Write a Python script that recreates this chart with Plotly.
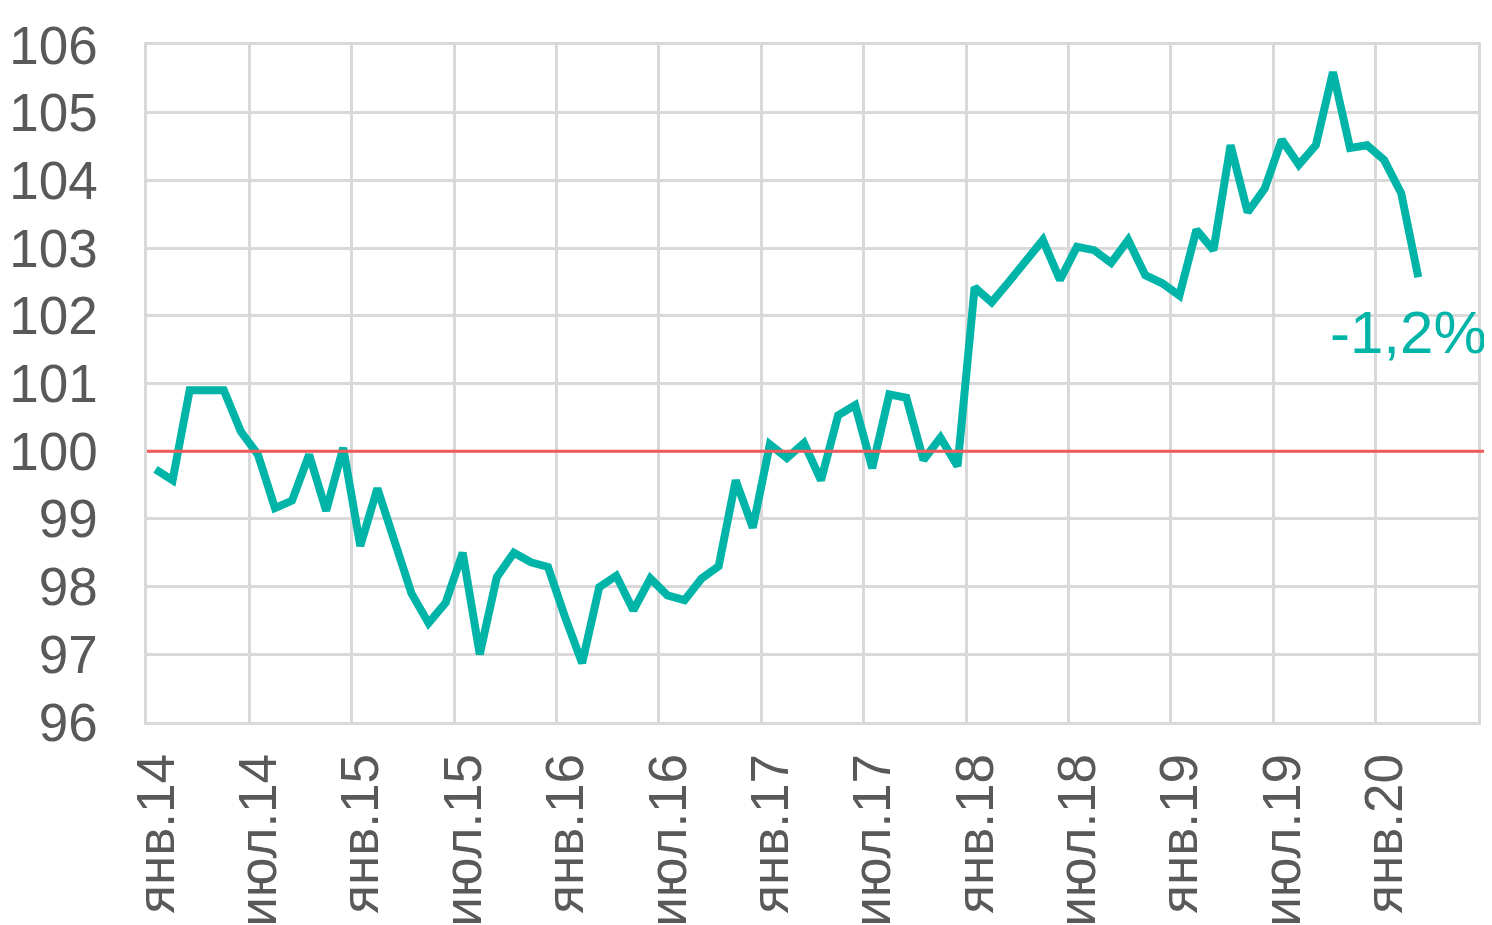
import plotly.graph_objects as go

# Monthly index values, Jan 2014 .. Mar 2020
values = [
    99.73, 99.57, 100.9, 100.9, 100.9, 100.29, 99.95, 99.16, 99.27, 99.95,
    99.12, 100.05, 98.6, 99.45, 98.7, 97.9, 97.46, 97.76, 98.5, 97.0,
    98.14, 98.5, 98.36, 98.29, 97.55, 96.87, 97.99, 98.16, 97.65, 98.12,
    97.87, 97.8, 98.12, 98.3, 99.57, 98.87, 100.1, 99.9, 100.12, 99.57,
    100.53, 100.68, 99.75, 100.84, 100.79, 99.87, 100.2, 99.78, 102.42, 102.2,
    102.5, 102.82, 103.12, 102.53, 103.02, 102.97, 102.78, 103.12, 102.6, 102.48,
    102.3, 103.27, 102.97, 104.52, 103.53, 103.88, 104.6, 104.23, 104.52, 105.6,
    104.48, 104.52, 104.3, 103.81, 102.57,
]
tick_labels = ["янв.14", "июл.14", "янв.15", "июл.15", "янв.16", "июл.16",
               "янв.17", "июл.17", "янв.18", "июл.18", "янв.19", "июл.19", "янв.20"]
y_ticks = [96, 97, 98, 99, 100, 101, 102, 103, 104, 105, 106]
baseline = 100
end_label = "-1,2%"

# month index, plotted at middle of each month
x = [i + 0.5 for i in range(len(values))]
tick_pos = [6 * k + 0.55 for k in range(len(tick_labels))]

teal = "#00B5A8"
grid = "#D9D9D9"
font_family = "Liberation Sans, Arial, sans-serif"

fig = go.Figure()
fig.add_trace(go.Scatter(x=x, y=values, mode="lines",
                         line=dict(color=teal, width=8, shape="linear"),
                         hoverinfo="skip", showlegend=False))

fig.add_shape(type="line", xref="paper", yref="y", x0=0, x1=1.005,
              y0=baseline, y1=baseline, line=dict(color="#F05A5A", width=3))

fig.add_annotation(x=73.9, y=101.76, text=end_label, showarrow=False,
                   font=dict(family=font_family, size=60, color=teal),
                   xanchor="center", yanchor="middle")

fig.update_layout(
    width=1492, height=925,
    margin=dict(l=139, r=22, t=37, b=211),
    paper_bgcolor="white", plot_bgcolor="white",
    font=dict(family=font_family, color="#595959"),
)
fig.update_xaxes(
    range=[0, 78], tickmode="array", tickvals=tick_pos, ticktext=tick_labels,
    tickangle=-90, tickfont=dict(size=53, color="#595959"),
    showgrid=False, zeroline=False, automargin=False,
    ticks="", ticklabelstandoff=8,
    minor=dict(tick0=0, dtick=6, showgrid=True, gridcolor=grid, gridwidth=2.5, ticks=""),
    showline=True, linecolor=grid, linewidth=2.5, mirror=True,
)
fig.update_yaxes(
    range=[96, 106], tickmode="array", tickvals=y_ticks,
    tickfont=dict(size=53, color="#595959"),
    showgrid=True, gridcolor=grid, gridwidth=2.5, zeroline=False, automargin=False,
    ticks="", ticklabelstandoff=36,
    showline=True, linecolor=grid, linewidth=2.5, mirror=True,
)

fig.write_html("out.html")
